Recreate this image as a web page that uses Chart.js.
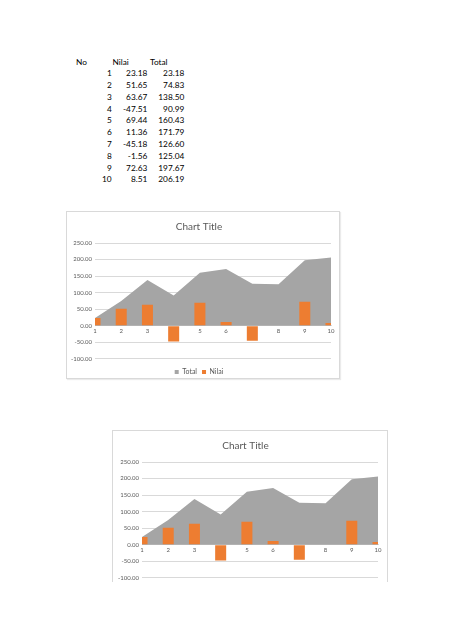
<!DOCTYPE html>
<html>
<head>
<meta charset="utf-8">
<script src="https://cdn.jsdelivr.net/npm/chart.js@4.4.0/dist/chart.umd.min.js"></script>
<style>
  body { margin: 0; background: #fff; font-family: Lato, "Open Sans", sans-serif; }
  #page { position: relative; width: 474px; height: 632px; overflow: hidden; }
  .cell { position: absolute; font-size: 8.3px; line-height: 12px; color: #000; white-space: nowrap; }
  .r { text-align: right; }
  .box { position: absolute; background: #fff; border: 1px solid #d9d9d9; box-sizing: border-box; }
  .crop { position: absolute; overflow: hidden; }
</style>
</head>
<body>
<div id="page">
  <div id="tabel"></div>
  <div class="box" style="left:66px; top:211px; width:274px; height:168px; box-shadow:1px 1px 1px rgba(0,0,0,0.08);">
    <canvas id="chart1"></canvas>
  </div>
  <div class="crop" style="left:112px; top:430px; width:277px; height:152px;">
    <div class="box" style="left:0; top:0; width:276px; height:168px;">
      <canvas id="chart2"></canvas>
    </div>
  </div>
</div>
<script>
const nomor = ['1', '2', '3', '4', '5', '6', '7', '8', '9', '10'];
const nilai = [23.18, 51.65, 63.67, -47.51, 69.44, 11.36, -45.18, -1.56, 72.63, 8.51];
const total = [23.18, 74.83, 138.50, 90.99, 160.43, 171.79, 126.60, 125.04, 197.67, 206.19];
const judul = 'Chart Title';

// tabel di atas
const tabel = document.getElementById('tabel');
function cell(text, left, top, width, right) {
	const d = document.createElement('div');
	d.className = 'cell' + (right ? ' r' : '');
	d.style.left = left + 'px';
	d.style.top = top + 'px';
	if (width) d.style.width = width + 'px';
	d.textContent = text;
	tabel.appendChild(d);
}
cell('No', 76, 56, 0, false);
cell('Nilai', 112.5, 56, 0, false);
cell('Total', 150, 56, 0, false);
for (let i = 0; i < nomor.length; i++) {
	const y = 67.3 + i * 11.78;
	cell(nomor[i], 90, y, 21.7, true);
	cell(nilai[i].toFixed(2), 115, y, 32.3, true);
	cell(total[i].toFixed(2), 150, y, 34.3, true);
}

function makeChart(id, axisWidth, rightPad) {
	const ctx = document.getElementById(id);
	return new Chart(ctx, {
		type: 'bar',
		data: {
			labels: nomor,
			datasets: [{
				type: 'line',
				label: 'Total',
				data: total,
				backgroundColor: '#a5a5a5',
				borderColor: '#a5a5a5',
				borderWidth: 0,
				pointRadius: 0,
				fill: 'origin',
				tension: 0,
				order: 2
			}, {
				label: 'Nilai',
				data: nilai,
				backgroundColor: '#ed7d31',
				borderWidth: 0,
				categoryPercentage: 0.42,
				barPercentage: 1,
				order: 1
			}]
		},
		options: {
			responsive: true,
			maintainAspectRatio: false,
			animation: false,
			layout: { padding: { left: 0, right: rightPad, top: 0, bottom: -7.5 } },
			scales: {
				x: {
					type: 'category',
					offset: false,
					position: { y: 0 },
					z: 1,
					grid: { display: false, drawTicks: false },
					border: { display: true, color: '#d9d9d9', width: 1 },
					ticks: {
						color: '#595959',
						font: { family: 'Lato', size: 6 },
						padding: 2,
						maxRotation: 0,
						autoSkip: false
					}
				},
				y: {
					min: -100,
					max: 250,
					afterFit: function (scale) { scale.width = axisWidth; },
					grid: { color: '#d9d9d9', drawTicks: false },
					border: { display: false },
					ticks: {
						stepSize: 50,
						color: '#595959',
						font: { family: 'Lato', size: 6 },
						padding: 3,
						callback: function (v) { return v.toFixed(2); }
					}
				}
			},
			plugins: {
				title: {
					display: true,
					text: judul,
					color: '#595959',
					font: { family: 'Lato', size: 10, weight: 'normal' },
					padding: { top: 9, bottom: 10 }
				},
				legend: {
					display: true,
					position: 'bottom',
					title: {
						display: true,
						text: '',
						font: { size: 1, lineHeight: 1 },
						padding: { top: 3.7, bottom: 0 }
					},
					labels: {
						color: '#595959',
						font: { family: 'Lato', size: 7 },
						boxWidth: 4,
						boxHeight: 4,
						padding: 5,
						sort: function (a, b) { return a.datasetIndex - b.datasetIndex; }
					}
				},
				tooltip: { enabled: false }
			}
		}
	});
}

makeChart('chart1', 28, 8);
makeChart('chart2', 29, 9);
</script>
</body>
</html>
